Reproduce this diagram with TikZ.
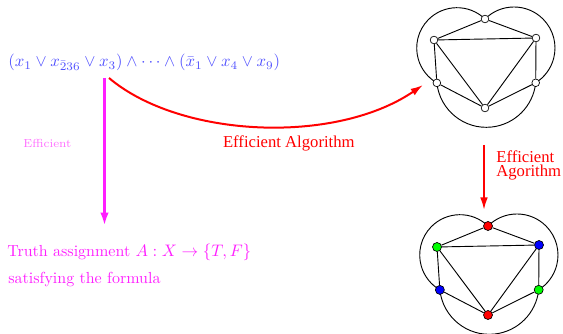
\documentclass[tikz,border=0pt]{standalone}
\usepackage{fontspec}
\newfontfamily\timesf{Liberation Serif}
\usetikzlibrary{arrows.meta,backgrounds}
\definecolor{fblue}{RGB}{80,80,255}
\definecolor{fmag}{RGB}{255,30,255}
\definecolor{fmaglight}{RGB}{255,110,255}
\begin{document}
\begin{tikzpicture}[x=0.6pt,y=0.6pt,
  vtx/.style={circle,draw=black,line width=0.4pt,inner sep=0pt,minimum size=4.6pt,fill=white},
  cvtx/.style={circle,draw=black,line width=0.4pt,inner sep=0pt,minimum size=5.4pt},
  gedge/.style={line width=0.55pt},
  lbl/.style={inner sep=0pt,anchor=base west},
  cmtext/.style={font=\fontsize{9.6pt}{11pt}\selectfont},
  redarrow/.style={draw=red,line width=1.2pt,-{Latex[length=7.5pt,width=4.6pt]}},
  magarrow/.style={draw=fmag,line width=1.6pt,-{Latex[length=8pt,width=5pt]}},
  ]
\useasboundingbox (0,0) rectangle (563,-334);

% formula and texts
\node[lbl,cmtext,text=fblue] (formula) at (8,-67)
  {$(x_1 \vee x_{\bar{2}36} \vee x_3) \wedge \cdots \wedge (\bar{x}_1 \vee x_4 \vee x_9)$};
\node[lbl,cmtext,text=fmag] (truth) at (7,-257) {Truth assignment $A: X \rightarrow \{T,F\}$};
\node[lbl,cmtext,text=fmag] (satis) at (8,-283) {satisfying the formula};
\node[lbl,text=fmaglight,font=\scriptsize] (eff) at (23,-147.7) {Efficient};
\node[lbl,text=red,font=\timesf] (effalg) at (222.7,-147.7) {Efficient Algorithm};
\node[lbl,text=red,font=\timesf] (eff2a) at (496,-162.3) {Efficient};
\node[lbl,text=red,font=\timesf] (eff2b) at (496,-176.7) {Agorithm};

% top graph
\node[vtx] (t1) at (485,-19) {};
\node[vtx] (ul1) at (434,-40) {};
\node[vtx] (ur1) at (536,-38) {};
\node[vtx] (ll1) at (436.85,-82.9) {};
\node[vtx] (lr1) at (535.7,-82.8) {};
\node[vtx] (b1) at (485,-108) {};
\begin{scope}[on background layer]
  \draw[gedge] (t1) -- (ul1);
  \draw[gedge] (t1) -- (ur1);
  \draw[gedge] (ul1) -- (ur1);
  \draw[gedge] (ul1) -- (ll1);
  \draw[gedge] (ur1) -- (lr1);
  \draw[gedge] (ul1) -- (b1);
  \draw[gedge] (ur1) -- (b1);
  \draw[gedge] (ll1) -- (b1);
  \draw[gedge] (lr1) -- (b1);
  \draw[gedge] (t1.center) arc[start angle=46,end angle=240,radius=40.3];
  \draw[gedge] (t1.center) arc[start angle=135,end angle=-57.8,radius=41];
  \draw[gedge] (ll1.center) arc[start angle=186.1,end angle=353.9,radius=49.7];
\end{scope}

% bottom graph
\begin{scope}[shift={(3,-207)}]
\node[cvtx,fill=red] (t2) at (485,-19) {};
\node[cvtx,fill=green] (ul2) at (434,-40) {};
\node[cvtx,fill=blue] (ur2) at (536,-38) {};
\node[cvtx,fill=blue] (ll2) at (436.85,-82.9) {};
\node[cvtx,fill=green] (lr2) at (535.7,-82.8) {};
\node[cvtx,fill=red] (b2) at (485,-108) {};
\end{scope}
\begin{scope}[on background layer]
  \draw[gedge] (t2) -- (ul2);
  \draw[gedge] (t2) -- (ur2);
  \draw[gedge] (ul2) -- (ur2);
  \draw[gedge] (ul2) -- (ll2);
  \draw[gedge] (ur2) -- (lr2);
  \draw[gedge] (ul2) -- (b2);
  \draw[gedge] (ur2) -- (b2);
  \draw[gedge] (ll2) -- (b2);
  \draw[gedge] (lr2) -- (b2);
  \draw[gedge] (t2.center) arc[start angle=46,end angle=240,radius=40.3];
  \draw[gedge] (t2.center) arc[start angle=135,end angle=-57.8,radius=41];
  \draw[gedge] (ll2.center) arc[start angle=186.1,end angle=353.9,radius=49.7];
\end{scope}

% arrows
\coordinate (ms) at (104.5,-78);
\coordinate (me) at (104.5,-226);
\draw[magarrow] (ms) -- (me);
\coordinate (cs) at (109,-78);
\coordinate (ce) at (423,-85);
\draw[redarrow] (cs) .. controls (180,-138) and (335,-145) .. (ce);
\coordinate (vs) at (484,-145);
\coordinate (ve) at (484,-210);
\draw[redarrow] (vs) -- (ve);
\end{tikzpicture}
\end{document}
